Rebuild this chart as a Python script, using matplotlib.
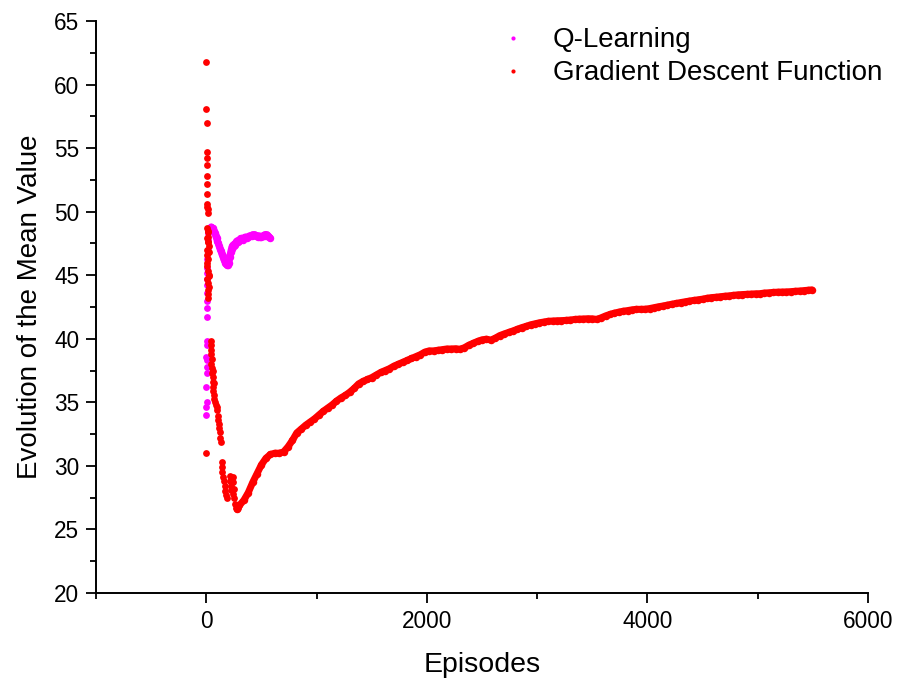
import matplotlib
matplotlib.use("Agg")
import matplotlib.pyplot as plt
from matplotlib.lines import Line2D
from matplotlib.ticker import MultipleLocator

plt.rcParams['font.family'] = ['Liberation Sans', 'DejaVu Sans']

# ---------------- data ----------------
# Q-Learning series: scattered first episodes
q_start_x = [0, 1, 2, 1, 3, 2, 4, 1, 3, 2, 3, 4, 2, 5, 3, 6, 4, 7, 9, 12, 14, 16]
q_start_y = [34.0, 34.6, 35.0, 36.2, 37.3, 37.8, 38.3, 38.6, 39.5, 39.8, 41.7, 42.4,
             43.0, 43.6, 44.2, 44.7, 45.2, 45.6, 46.3, 47.0, 47.8, 48.3]
# Q-Learning series: running curve
q_curve_x = [20, 28, 36, 44, 52, 60, 68, 76, 84, 92, 100, 108, 116, 124, 132, 140,
             148, 156, 164, 172, 180, 188, 196, 204, 212, 220, 228, 236, 244, 252,
             260, 268, 276, 284, 292, 300, 310, 320, 330, 340, 350, 360, 370, 380,
             390, 400, 410, 420, 430, 440, 450, 460, 470, 480, 490, 500, 510, 520,
             530, 540, 550, 560, 570, 580]
q_curve_y = [48.5, 48.6, 48.7, 48.8, 48.7, 48.7, 48.5, 48.3, 48.1, 47.9, 47.7, 47.5,
             47.3, 47.1, 46.9, 46.7, 46.5, 46.3, 46.2, 46.0, 45.9, 45.8, 45.8, 46.0,
             46.4, 46.8, 47.1, 47.3, 47.4, 47.3, 47.4, 47.6, 47.7, 47.6, 47.7, 47.8,
             47.9, 47.9, 47.8, 47.9, 48.0, 48.0, 47.9, 48.0, 48.1, 48.1, 48.1, 48.2,
             48.2, 48.2, 48.1, 48.1, 48.0, 48.1, 48.0, 48.0, 48.1, 48.1, 48.2, 48.1,
             48.2, 48.1, 48.0, 47.9]

# Gradient Descent Function series: early noisy part
gd_early_x = [0, 1, 2, 3, 4, 5, 6, 7, 8, 9, 10, 11, 12, 13, 14, 15, 0,
              8, 14, 5, 12, 20, 6, 10, 18, 4, 8, 14, 20, 10, 16, 22, 12, 18, 15, 25, 28,
              38, 42, 40, 45, 48, 44, 52, 50, 56, 60, 58, 64, 68, 72, 78, 85, 92, 100, 62, 70,
              105, 110, 115, 118, 120, 128, 132,
              140, 142, 146, 152, 160, 168, 172, 178, 185, 210, 218, 222, 225,
              240, 245, 248, 245, 250, 258, 265, 275, 285]
gd_early_y = [61.8, 58.1, 57.0, 54.7, 54.2, 53.7, 52.8, 52.2, 51.4, 50.6, 50.4, 50.2,
              49.9, 48.5, 48.0, 47.6, 31.0,
              48.7, 48.4, 47.9, 47.6, 47.3, 47.0, 46.6, 46.3, 46.0, 45.7, 45.3, 45.0,
              44.7, 44.4, 44.1, 43.8, 43.5, 43.2, 46.8, 44.9,
              39.8, 39.5, 39.1, 38.8, 38.4, 38.0, 37.7, 37.3, 37.0, 36.6, 36.2, 35.9,
              35.6, 35.3, 35.0, 34.8, 34.6, 34.4, 37.5, 36.5,
              33.9, 33.6, 33.3, 33.0, 32.7, 32.2, 31.9,
              30.3, 29.9, 29.5, 29.1, 28.8, 28.4, 28.0, 27.7, 27.5, 29.2, 28.8, 28.4, 28.1,
              29.1, 28.7, 28.2, 27.8, 27.5, 27.0, 26.7, 26.6, 26.7]

# Gradient Descent Function series: long tail
gd_tail_x = [280, 300, 340, 380, 420, 460, 500, 540, 580, 620, 660, 700, 740, 780, 820,
             860, 900, 940, 980, 1020, 1060, 1100, 1140, 1180, 1220, 1260, 1300,
             1340, 1380, 1420, 1460, 1500, 1540, 1580, 1620, 1660, 1700, 1740, 1780,
             1820, 1860, 1900, 1940, 1980, 2020, 2060, 2100, 2140, 2180, 2220, 2260,
             2300, 2340, 2380, 2420, 2460, 2500, 2540, 2580, 2620, 2660, 2700, 2740,
             2780, 2820, 2860, 2900, 2940, 2980, 3020, 3060, 3100, 3140, 3180, 3220,
             3260, 3300, 3340, 3380, 3420, 3460, 3500, 3540, 3580, 3620, 3660, 3700,
             3740, 3780, 3820, 3860, 3900, 3940, 3980, 4020, 4060, 4100, 4140, 4180,
             4220, 4260, 4300, 4340, 4380, 4420, 4460, 4500, 4540, 4580, 4620, 4660,
             4700, 4740, 4780, 4820, 4860, 4900, 4940, 4980, 5020, 5060, 5100, 5140,
             5180, 5220, 5260, 5300, 5340, 5380, 5420, 5460, 5490]
gd_tail_y = [26.6, 26.9, 27.3, 27.9, 28.7, 29.4, 30.1, 30.6, 30.9, 31.0, 31.0, 31.1, 31.5,
             32.0, 32.6, 32.9, 33.2, 33.45, 33.7, 34.0, 34.3, 34.55, 34.8, 35.1, 35.35,
             35.55, 35.8, 36.1, 36.45, 36.65, 36.8, 36.95, 37.15, 37.35, 37.5, 37.65,
             37.85, 38.0, 38.15, 38.3, 38.45, 38.6, 38.75, 38.95, 39.05, 39.05, 39.1,
             39.15, 39.2, 39.2, 39.22, 39.18, 39.3, 39.5, 39.65, 39.8, 39.92, 39.97,
             39.9, 40.05, 40.25, 40.38, 40.5, 40.62, 40.75, 40.88, 40.98, 41.1, 41.18,
             41.26, 41.32, 41.38, 41.4, 41.42, 41.43, 41.45, 41.48, 41.52, 41.55, 41.56,
             41.58, 41.57, 41.53, 41.65, 41.8, 41.92, 42.02, 42.1, 42.17, 42.22, 42.28,
             42.32, 42.32, 42.33, 42.38, 42.45, 42.52, 42.58, 42.65, 42.72, 42.78, 42.85,
             42.91, 42.97, 43.02, 43.07, 43.12, 43.19, 43.24, 43.27, 43.31, 43.35, 43.38,
             43.42, 43.46, 43.48, 43.5, 43.52, 43.54, 43.55, 43.6, 43.62, 43.65, 43.67,
             43.68, 43.69, 43.71, 43.74, 43.76, 43.79, 43.82, 43.85]

series_names = ["Q-Learning", "Gradient Descent Function"]
x_ticks = [0, 2000, 4000, 6000]
y_ticks = [20, 25, 30, 35, 40, 45, 50, 55, 60, 65]

MAG = '#FF00FF'
RED = '#FF0000'

# ---------------- plot ----------------
fig = plt.figure(figsize=(8.98, 6.82), dpi=100)
ax = fig.add_axes([0.107, 0.1305, 0.8596, 0.8387])

ms = 4.9
ax.plot(q_start_x, q_start_y, linestyle='none', marker='o', markersize=ms,
        markeredgewidth=0, color=MAG)
ax.plot(q_curve_x, q_curve_y, linestyle='-', linewidth=5.0, marker='o',
        markersize=5.4, markeredgewidth=0, color=MAG, solid_capstyle='round')
ax.plot(gd_early_x, gd_early_y, linestyle='none', marker='o', markersize=ms,
        markeredgewidth=0, color=RED)
ax.plot(gd_tail_x, gd_tail_y, linestyle='-', linewidth=5.0, marker='o',
        markersize=5.4, markeredgewidth=0, color=RED, solid_capstyle='round')

ax.set_xlim(-1000, 6000)
ax.set_ylim(20, 65)
ax.set_xticks(x_ticks)
ax.set_yticks(y_ticks)
ax.xaxis.set_minor_locator(MultipleLocator(1000))
ax.yaxis.set_minor_locator(MultipleLocator(2.5))

for s in ['top', 'right']:
    ax.spines[s].set_visible(False)
for s in ['left', 'bottom']:
    ax.spines[s].set_linewidth(1.4)
    ax.spines[s].set_color('black')

ax.tick_params(axis='both', which='major', direction='out', length=7, width=1.3,
               labelsize=16.3, colors='black')
ax.tick_params(axis='x', which='major', pad=5)
ax.tick_params(axis='y', which='major', pad=5)
ax.tick_params(axis='both', which='minor', direction='out', length=4.5, width=1.3)

ax.set_xlabel("Episodes", fontsize=20.5, labelpad=14)
ax.set_ylabel("Evolution of the Mean Value", fontsize=20, labelpad=8)

handles = [Line2D([], [], linestyle='none', marker='o', markersize=3,
                  markeredgewidth=0, color=MAG),
           Line2D([], [], linestyle='none', marker='o', markersize=3,
                  markeredgewidth=0, color=RED)]
fig.legend(handles, series_names, loc='upper left', frameon=False,
           fontsize=20, bbox_to_anchor=(0.5434, 0.976), handletextpad=0.94,
           labelspacing=0.25, handlelength=1.0, borderaxespad=0)

fig.savefig("out.png", dpi=100)
